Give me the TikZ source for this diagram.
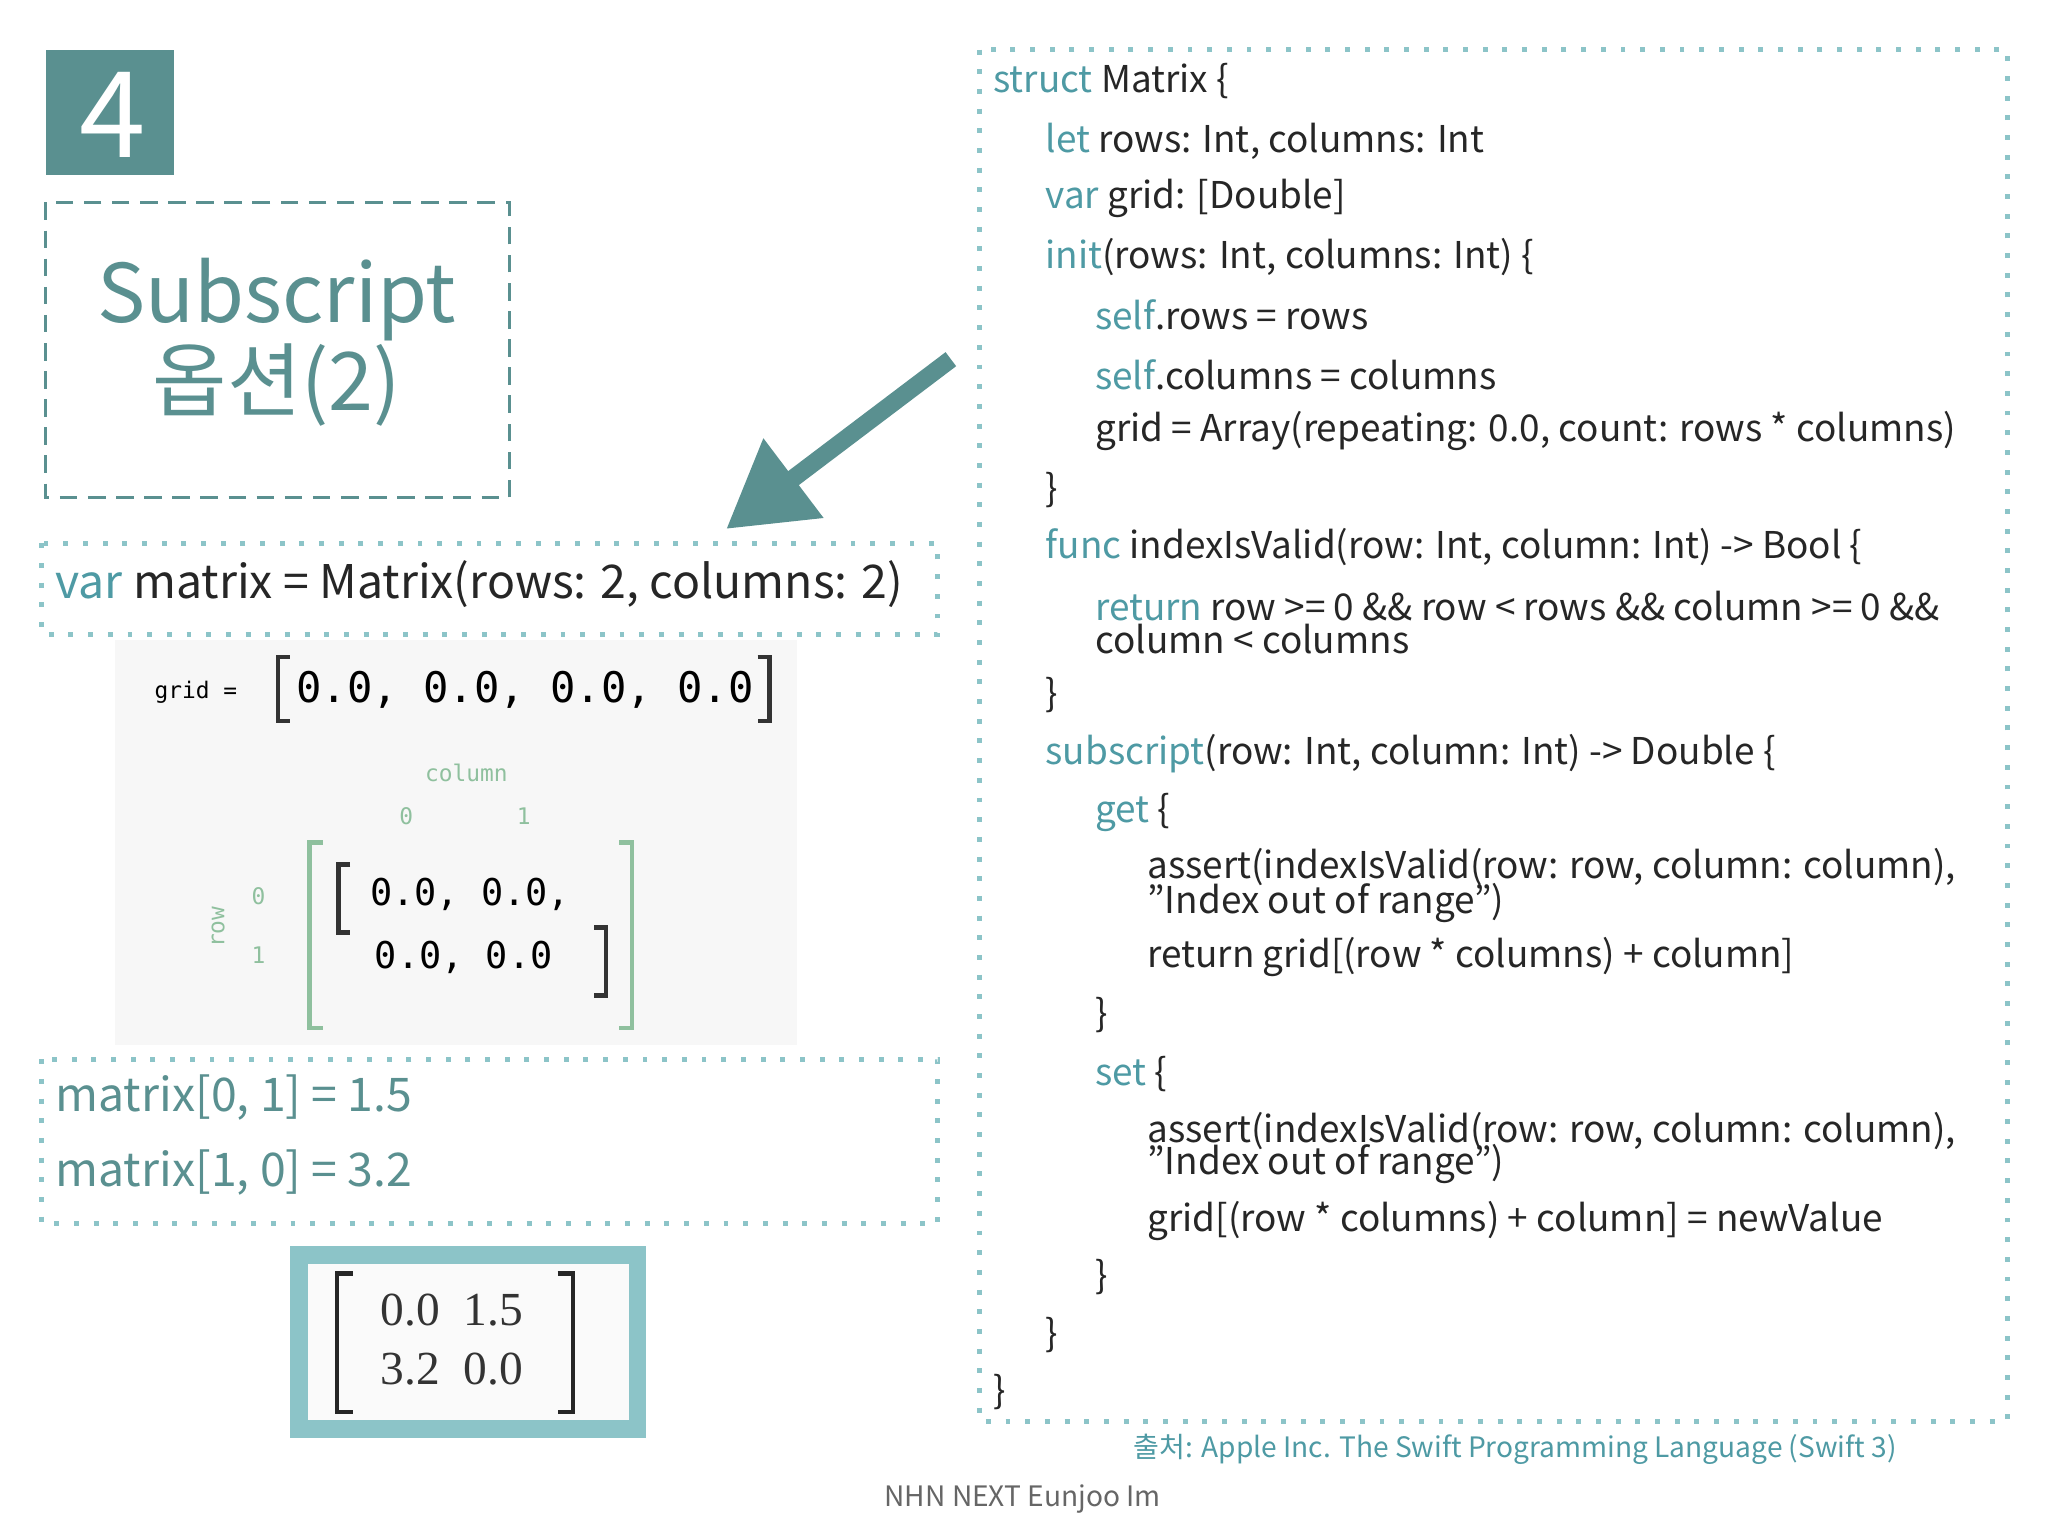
\documentclass[tikz,border=0pt]{standalone}
\usepackage{fontspec}
\setmainfont{Noto Sans CJK KR}
\setmonofont{DejaVu Sans Mono}
\newfontfamily\serifmat{Liberation Serif}
\usetikzlibrary{arrows.meta}
\definecolor{teal4}{HTML}{5A9090}
\definecolor{kwc}{HTML}{4E9AA4}
\definecolor{dotc}{HTML}{8CC4C8}
\definecolor{gridg}{HTML}{8FC09E}
\newcommand\kw[1]{\textcolor{kwc}{#1}}
\tikzset{
  code/.style={anchor=west,inner sep=0pt,font=\fontsize{10.5}{12}\selectfont,text=black!85},
  dotbox/.style={draw=dotc,line width=1.4pt,dash pattern=on 1.4pt off 4.2pt},
  mono/.style={inner sep=0pt,font=\ttfamily\fontsize{10.5}{12}\selectfont},
  small/.style={inner sep=0pt,font=\ttfamily\fontsize{6.5}{7}\selectfont}
}
\begin{document}
\begin{tikzpicture}[x=0.01306cm,y=-0.01306cm]
  \useasboundingbox[fill=white] (0,0) rectangle (1568,1176);
  % title
  \fill[teal4] (35,38) rectangle (133,134);
  \node[text=white,font=\fontsize{34}{34}\selectfont\itshape] (num) at (86,88) {4};
  \draw[teal4,dashed,line width=0.8pt,dash pattern=on 5pt off 3pt] (35,155) rectangle (390,381);
  \node[text=teal4,align=center,font=\fontsize{23}{21}\selectfont] (title) at (212,262) {Subscript\\옵션(2)};
  % arrow
  \coordinate (from) at (728,275);
  \coordinate (to) at (556,405);
  \draw[teal4,line width=5pt,-{Triangle[length=24pt,width=27pt]}] (from) -- (to);
  % var matrix
  \draw[dotbox] (32,416) rectangle (718,486);
  \node[code,font=\fontsize{13.2}{15}\selectfont] (decl) at (42,447) {\kw{var} matrix = Matrix(rows: 2, columns: 2)};
  % grid image
  \fill[black!3] (88,490) rectangle (610,800);
  \node[small] (gridlbl) at (150,530) {grid =};
  \node[mono,font=\ttfamily\fontsize{12}{13}\selectfont] (gridrow) at (402,528) {0.0, 0.0, 0.0, 0.0};
  \draw[black!80,line width=1.3pt] (222,503) -- (213,503) -- (213,552) -- (222,552);
  \draw[black!80,line width=1.3pt] (580,503) -- (589,503) -- (589,552) -- (580,552);
  \node[small,text=gridg] (colname) at (357,592) {column};
  \node[small,text=gridg] (c0) at (311,625) {0};
  \node[small,text=gridg] (c1) at (401,625) {1};
  \node[small,text=gridg,rotate=90] (rowname) at (167,710) {row};
  \node[small,text=gridg] (r0) at (198,686) {0};
  \node[small,text=gridg] (r1) at (198,731) {1};
  \draw[gridg,line width=1.3pt] (247,645) -- (237,645) -- (237,787) -- (247,787);
  \draw[gridg,line width=1.3pt] (474,645) -- (484,645) -- (484,787) -- (474,787);
  \draw[black!80,line width=1.3pt] (268,662) -- (259,662) -- (259,714) -- (268,714);
  \draw[black!80,line width=1.3pt] (455,710) -- (464,710) -- (464,762) -- (455,762);
  \node[mono] (m0) at (360,685) {0.0, 0.0,};
  \node[mono] (m1) at (355,733) {0.0, 0.0};
  % assignments
  \draw[dotbox] (32,811) rectangle (718,937);
  \node[code,font=\fontsize{13.2}{15}\selectfont,text=teal4] (set0) at (42,840) {matrix[0, 1] = 1.5};
  \node[code,font=\fontsize{13.2}{15}\selectfont,text=teal4] (set1) at (42,898) {matrix[1, 0] = 3.2};
  % result
  \fill[black!2] (225,957) rectangle (492,1098);
  \draw[dotc,line width=5pt] (229,961) rectangle (488,1094);
  \draw[black!85,line width=1.2pt] (270,975) -- (258,975) -- (258,1081) -- (270,1081);
  \draw[black!85,line width=1.2pt] (427,975) -- (439,975) -- (439,1081) -- (427,1081);
  \node[font=\serifmat\fontsize{13.5}{14}\selectfont,text=black!80] (res0) at (346,1003) {0.0\hspace{0.5em}1.5};
  \node[font=\serifmat\fontsize{13.5}{14}\selectfont,text=black!80] (res1) at (346,1048) {3.2\hspace{0.5em}0.0};
  % code
  \draw[dotbox] (750,38) rectangle (1537,1088);
  \node[code] (l1) at (760,62) {\kw{struct} Matrix \{};
  \node[code] (l2) at (800,108) {\kw{let} rows: Int, columns: Int};
  \node[code] (l3) at (800,152) {\kw{var} grid: [Double]};
  \node[code] (l4) at (800,197) {\kw{init}(rows: Int, columns: Int) \{};
  \node[code] (l5) at (838,241) {\kw{self}.rows = rows};
  \node[code] (l6) at (838,287) {\kw{self}.columns = columns};
  \node[code] (l7) at (838,330) {grid = Array(repeating: 0.0, count: rows * columns)};
  \node[code] (l8) at (800,375) {\}};
  \node[code] (l9) at (800,419) {\kw{func} indexIsValid(row: Int, column: Int) -> Bool \{};
  \node[code] (l10) at (838,464) {\kw{return} row >= 0 \&\& row < rows \&\& column >= 0 \&\&};
  \node[code] (l11) at (838,489) {column < columns};
  \node[code] (l12) at (800,532) {\}};
  \node[code] (l13) at (800,577) {\kw{subscript}(row: Int, column: Int) -> Double \{};
  \node[code] (l14) at (838,622) {\kw{get} \{};
  \node[code] (l15) at (878,664) {assert(indexIsValid(row: row, column: column),};
  \node[code] (l16) at (878,691) {"Index out of range")};
  \node[code] (l17) at (878,733) {return grid[(row * columns) + column]};
  \node[code] (l18) at (838,777) {\}};
  \node[code] (l19) at (838,822) {\kw{set} \{};
  \node[code] (l20) at (878,866) {assert(indexIsValid(row: row, column: column),};
  \node[code] (l21) at (878,891) {"Index out of range")};
  \node[code] (l22) at (878,935) {grid[(row * columns) + column] = newValue};
  \node[code] (l23) at (838,978) {\}};
  \node[code] (l24) at (800,1022) {\}};
  \node[code] (l25) at (760,1066) {\}};
  % footer
  \node[text=kwc,font=\fontsize{8}{9}\selectfont] (src) at (1160,1110) {출처: Apple Inc. The Swift Programming Language (Swift 3)};
  \node[text=black!60,font=\fontsize{8}{9}\selectfont] (credit) at (783,1148) {NHN NEXT Eunjoo Im};
\end{tikzpicture}
\end{document}
